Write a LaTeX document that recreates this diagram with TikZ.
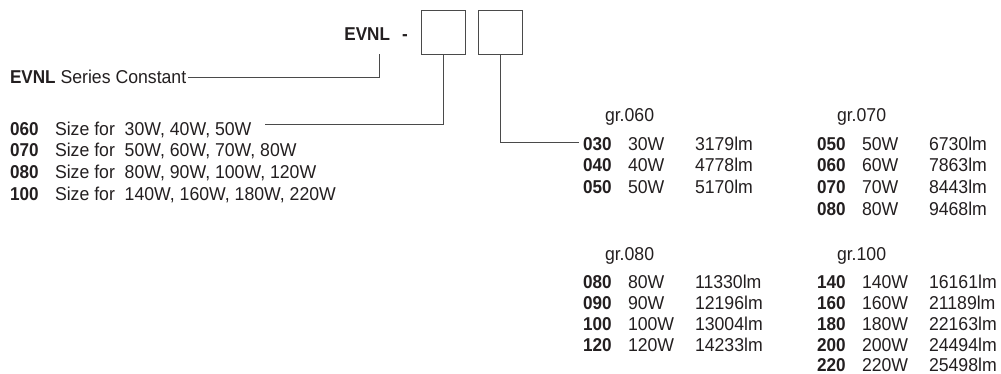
\documentclass[tikz,border=0pt]{standalone}
\usepackage{fontspec}
\setmainfont{Liberation Sans}[FakeStretch=0.95,BoldFeatures={FakeStretch=0.92}]
\definecolor{ink}{HTML}{231F20}
\definecolor{rule}{HTML}{4A4A4A}
\begin{document}
\begin{tikzpicture}[x=1pt,y=-1pt,
  txt/.style={inner sep=0pt,outer sep=0pt,anchor=base west,text=ink,font=\fontsize{18.6}{20}\selectfont},
  bld/.style={txt,font=\fontsize{18.6}{20}\selectfont\bfseries},
  slot/.style={draw=rule,line width=0.9pt,minimum size=44pt,inner sep=0pt},
  conn/.style={draw=rule,line width=0.9pt}]
\useasboundingbox (0,0) rectangle (1001,373);
% header
\node[bld,anchor=base east] (evnl) at (390,40.7) {EVNL};
\node[bld] (dash) at (402,40.7) {-};
\node[slot] (box1) at (443.7,32) {};
\node[slot] (box2) at (500.5,32) {};
% series constant
\node[txt] (sc) at (10,83.5) {\textbf{EVNL} Series Constant};
\coordinate (c1) at (379,54);
\draw[conn] (c1) |- ([xshift=2pt,yshift=6.3pt]sc.base east);
% sizes
\node[bld] (s1c) at (10,135) {060};
\node[txt] (s1t) at (55,135) {Size for\ \ 30W, 40W, 50W};
\node[bld] (s2c) at (10,156.7) {070};
\node[txt] (s2t) at (55,156.7) {Size for\ \ 50W, 60W, 70W, 80W};
\node[bld] (s3c) at (10,178.3) {080};
\node[txt] (s3t) at (55,178.3) {Size for\ \ 80W, 90W, 100W, 120W};
\node[bld] (s4c) at (10,200) {100};
\node[txt] (s4t) at (55,200) {Size for\ \ 140W, 160W, 180W, 220W};
\coordinate (c2) at ([xshift=14pt,yshift=11pt]s1t.base east);
\draw[conn] (c2) -| (box1.south);
% table gr.060
\node[txt] (g1) at (605,121.3) {gr.060};
\node[bld] (a1) at (583,150) {030}; \node[txt] at (628,150) {30W}; \node[txt] at (695,150) {3179lm};
\node[bld] (a2) at (583,171.7) {040}; \node[txt] at (628,171.7) {40W}; \node[txt] at (695,171.7) {4778lm};
\node[bld] (a3) at (583,193.3) {050}; \node[txt] at (628,193.3) {50W}; \node[txt] at (695,193.3) {5170lm};
\draw[conn] (box2.south) |- ([xshift=-4pt,yshift=7.3pt]a1.base west);
% table gr.070
\node[txt] (g2) at (837,121.3) {gr.070};
\node[bld] (b1) at (817,150) {050}; \node[txt] at (862,150) {50W}; \node[txt] at (929,150) {6730lm};
\node[bld] (b2) at (817,171.7) {060}; \node[txt] at (862,171.7) {60W}; \node[txt] at (929,171.7) {7863lm};
\node[bld] (b3) at (817,193.3) {070}; \node[txt] at (862,193.3) {70W}; \node[txt] at (929,193.3) {8443lm};
\node[bld] (b4) at (817,215) {080}; \node[txt] at (862,215) {80W}; \node[txt] at (929,215) {9468lm};
% table gr.080
\node[txt] (g3) at (605,260) {gr.080};
\node[bld] (d1) at (583,288) {080}; \node[txt] at (628,288) {80W}; \node[txt] at (695,288) {11330lm};
\node[bld] (d2) at (583,309) {090}; \node[txt] at (628,309) {90W}; \node[txt] at (695,309) {12196lm};
\node[bld] (d3) at (583,330) {100}; \node[txt] at (628,330) {100W}; \node[txt] at (695,330) {13004lm};
\node[bld] (d4) at (583,351) {120}; \node[txt] at (628,351) {120W}; \node[txt] at (695,351) {14233lm};
% table gr.100
\node[txt] (g4) at (837,260) {gr.100};
\node[bld] (e1) at (817,288) {140}; \node[txt] at (862,288) {140W}; \node[txt] at (929,288) {16161lm};
\node[bld] (e2) at (817,309) {160}; \node[txt] at (862,309) {160W}; \node[txt] at (929,309) {21189lm};
\node[bld] (e3) at (817,330) {180}; \node[txt] at (862,330) {180W}; \node[txt] at (929,330) {22163lm};
\node[bld] (e4) at (817,351) {200}; \node[txt] at (862,351) {200W}; \node[txt] at (929,351) {24494lm};
\node[bld] (e5) at (817,371.5) {220}; \node[txt] at (862,371.5) {220W}; \node[txt] at (929,371.5) {25498lm};
\end{tikzpicture}
\end{document}
